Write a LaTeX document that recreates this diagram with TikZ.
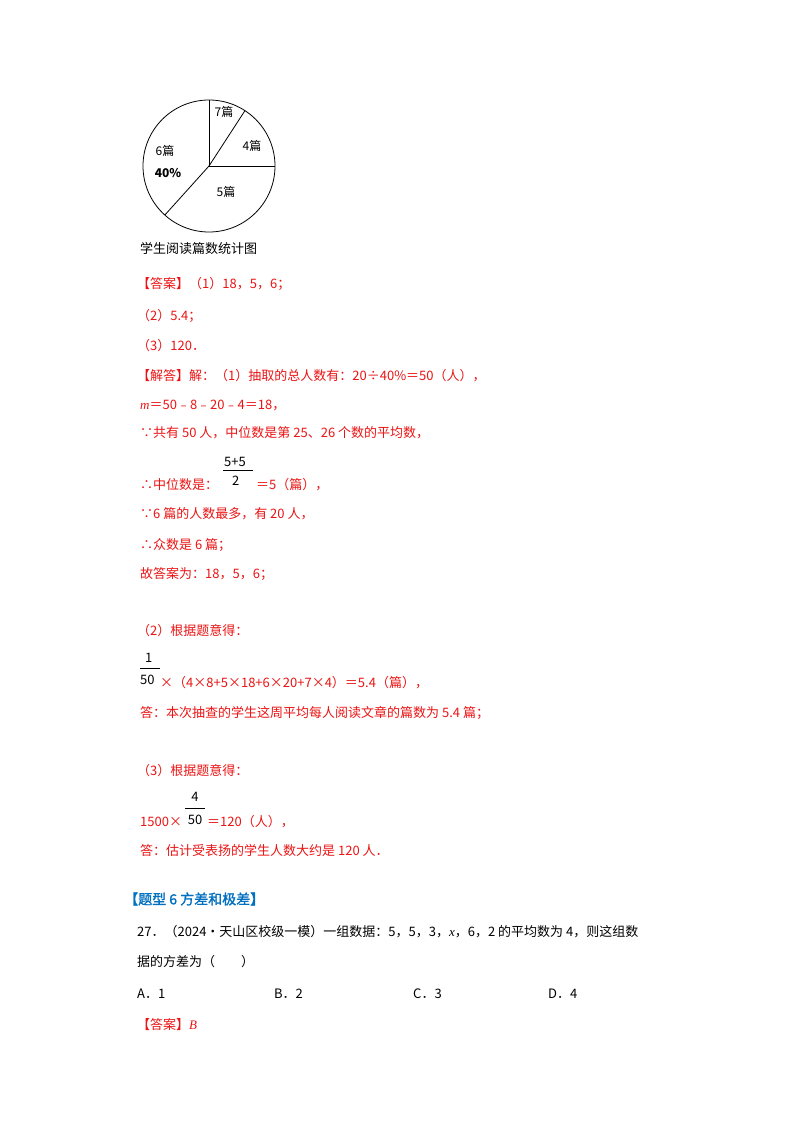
\documentclass[tikz,border=0pt]{standalone}
\usepackage{fontspec}
\setmainfont{Noto Sans CJK SC}
\newfontfamily\cjkb[FakeBold=1.5]{Noto Sans CJK SC}
\newfontfamily\ser{Liberation Serif}
\definecolor{ansred}{RGB}{235,20,20}
\definecolor{headblue}{RGB}{0,112,192}
\begin{document}
\begin{tikzpicture}[x=1pt,y=-1pt,
  t/.style={anchor=west,inner sep=0pt,font=\fontsize{13}{15}\selectfont},
  r/.style={t,text=ansred},
  lab/.style={inner sep=0pt,font=\fontsize{12}{14}\selectfont}]
\useasboundingbox (0,0) rectangle (800,1132);
\fill[white] (0,0) rectangle (800,1132);
% pie
\coordinate (c) at (209,166);
\draw[line width=0.8pt] (c) circle (66);
\draw[line width=0.8pt] (c) -- ++(0,-66);
\draw[line width=0.8pt] (c) -- ++({66*cos(57)},{-66*sin(57)});
\draw[line width=0.8pt] (c) -- ++(66,0);
\draw[line width=0.8pt] (c) -- ++({66*cos(228)},{-66*sin(228)});
\node[lab] (p7) at (224,112) {7篇};
\node[lab] (p4) at (252,146) {4篇};
\node[lab] (p5) at (226,192) {5篇};
\node[lab] (p6) at (165,151) {6篇};
\node[lab,font=\fontsize{12}{14}\selectfont\bfseries] (p6b) at (168,173) {40\%};
\node[t] (cap) at (140,249) {学生阅读篇数统计图};
% answers
\node[r] (a1) at (137,284) {【答案】（1）18，5，6；};
\node[r] (a2) at (137,316) {（2）5.4；};
\node[r] (a3) at (137,346) {（3）120．};
\node[r] (s1) at (137,376) {【解答】解：（1）抽取的总人数有：20÷40\%＝50（人），};
\node[r] (s2) at (140,405) {\ser\itshape m\upshape\normalfont＝50﹣8﹣20﹣4＝18，};
\node[r] (s3) at (140,433) {∵共有 50 人，中位数是第 25、26 个数的平均数，};
\node[r] (s4) at (140,485) {∴中位数是：};
\node[t] (f1n) at (224,462) {5+5};
\draw (223,470) -- (253,470);
\node[t] (f1d) at (232,481) {2};
\node[r] (s4b) at (256,485) {＝5（篇），};
\node[r] (s5) at (140,514) {∵6 篇的人数最多，有 20 人，};
\node[r] (s6) at (140,545) {∴众数是 6 篇；};
\node[r] (s7) at (140,574) {故答案为：18，5，6；};
\node[r] (b1) at (137,631) {（2）根据题意得：};
\node[t] (f2n) at (145,658) {1};
\draw (140,668) -- (160,668);
\node[t] (f2d) at (140,680) {50};
\node[r] (b2) at (160,683) {×（4×8+5×18+6×20+7×4）＝5.4（篇），};
\node[r] (b3) at (140,713) {答：本次抽查的学生这周平均每人阅读文章的篇数为 5.4 篇；};
\node[r] (c1) at (137,771) {（3）根据题意得：};
\node[r] (c2) at (140,822) {1500×};
\node[t,anchor=center] (f3n) at (195,797) {4};
\draw (185,808) -- (205,808);
\node[t,anchor=center] (f3d) at (195,820) {50};
\node[r] (c2b) at (207,822) {＝120（人），};
\node[r] (c3) at (140,851) {答：估计受表扬的学生人数大约是 120 人．};
% next question
\node[t,text=headblue,font=\fontsize{14}{16}\selectfont\cjkb] (h) at (124,899) {【题型 6 方差和极差】};
\node[t] (q1) at (137,932) {27．（2024•天山区校级一模）一组数据：5，5，3，{\ser\itshape x}，6，2 的平均数为 4，则这组数};
\node[t] (q2) at (137,962) {据的方差为（　　）};
\node[t] (oa) at (137,994) {A．1};
\node[t] (ob) at (274,994) {B．2};
\node[t] (oc) at (413,994) {C．3};
\node[t] (od) at (548,994) {D．4};
\node[r] (ans) at (137,1025) {【答案】{\ser\itshape B}};
\end{tikzpicture}
\end{document}
